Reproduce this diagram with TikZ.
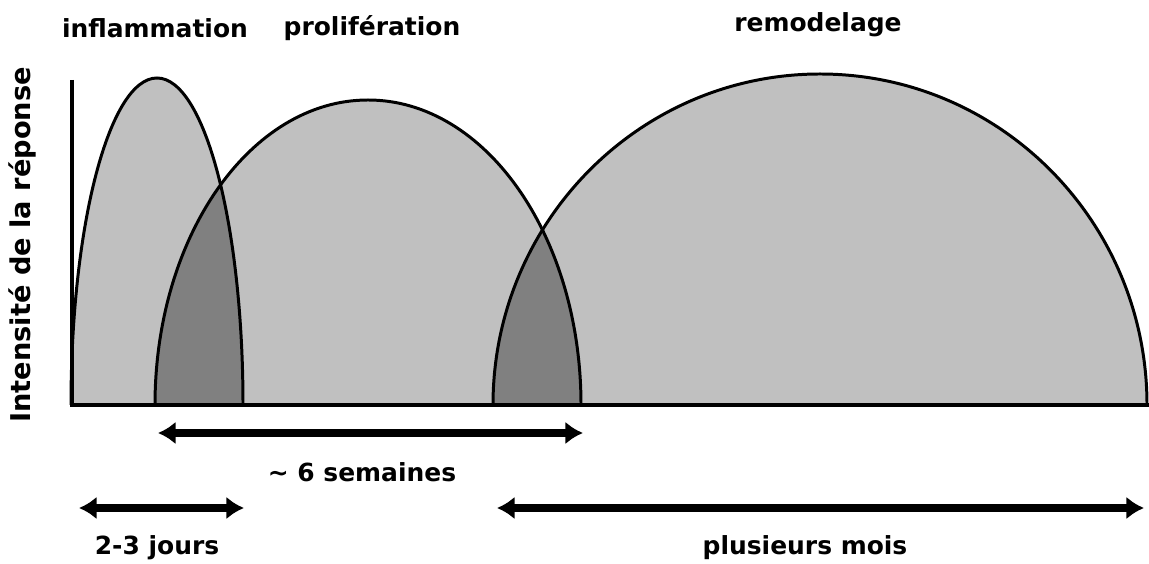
\documentclass[tikz,border=0pt]{standalone}
\usepackage{fontspec}
\setmainfont{DejaVu Sans}
\usetikzlibrary{arrows.meta,positioning}
\definecolor{ArchGrey}{HTML}{C0C0C0}
\definecolor{OverlapGrey}{HTML}{808080}

\begin{document}
\begin{tikzpicture}[x=0.02cm, y=0.02cm,
  arch/.style={draw=black, line width=1.7pt},
  axisline/.style={draw=black, line width=1.8pt},
  span/.style={{Latex[length=10pt,width=13pt]}-{Latex[length=10pt,width=13pt]}, line width=5pt},
  phase/.style={font=\fontsize{14.2}{17}\selectfont\bfseries, inner sep=0pt}
]
\useasboundingbox[fill=white] (0,0) rectangle (1149,564);
\fill[ArchGrey] (71,159) arc[start angle=180, end angle=0, x radius=86, y radius=327] -- cycle;
\fill[ArchGrey] (155,159) arc[start angle=180, end angle=0, x radius=213, y radius=305] -- cycle;
\fill[ArchGrey] (493,159) arc[start angle=180, end angle=0, x radius=327, y radius=331] -- cycle;
\begin{scope}
  \clip (71,159) arc[start angle=180, end angle=0, x radius=86, y radius=327] -- cycle;
  \fill[OverlapGrey] (155,159) arc[start angle=180, end angle=0, x radius=213, y radius=305] -- cycle;
\end{scope}
\begin{scope}
  \clip (155,159) arc[start angle=180, end angle=0, x radius=213, y radius=305] -- cycle;
  \fill[OverlapGrey] (493,159) arc[start angle=180, end angle=0, x radius=327, y radius=331] -- cycle;
\end{scope}
\draw[arch] (71,159) arc[start angle=180, end angle=0, x radius=86, y radius=327];
\draw[arch] (155,159) arc[start angle=180, end angle=0, x radius=213, y radius=305];
\draw[arch] (493,159) arc[start angle=180, end angle=0, x radius=327, y radius=331];

\coordinate (top) at (72,484);
\coordinate (origin) at (72,159);
\coordinate (end) at (1149,159);
\draw[axisline] (top) -- (origin) -- (end);

\coordinate (inflA) at (79,56);
\coordinate (inflB) at (244,56);
\coordinate (prolA) at (158,131);
\coordinate (prolB) at (583,131);
\coordinate (remoA) at (497,56);
\coordinate (remoB) at (1144,56);
\draw[span] (prolA) -- (prolB);
\draw[span] (inflA) -- (inflB);
\draw[span] (remoA) -- (remoB);

\node[phase] (inflammation) at (155,536) {inflammation};
\node[phase] (proliferation) at (372,536) {prolifération};
\node[phase] (remodelage) at (818,539) {remodelage};
\node[phase] (semaines) at (362,92) {\textasciitilde\ 6 semaines};
\node[phase] (jours) at (157,16) {2-3 jours};
\node[phase] (mois) at (805,16) {plusieurs mois};
\node[phase, rotate=90, font=\fontsize{15.5}{18}\selectfont\bfseries] (intensite) at (22,319) {Intensité de la réponse};
\end{tikzpicture}
\end{document}
